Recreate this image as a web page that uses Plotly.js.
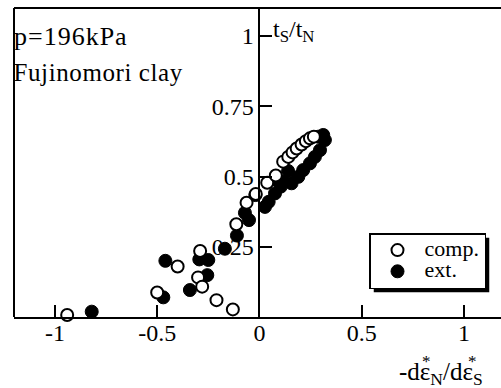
<!DOCTYPE html>
<html>
<head>
<meta charset="utf-8">
<script src="https://cdn.plot.ly/plotly-3.0.1.min.js"></script>
<style>
html,body{margin:0;padding:0;background:#fff;}
#chart{width:501px;height:388px;}
.legendtext{font-size:22px !important;}
.annotation[data-index="0"] .annotation-text{letter-spacing:1px;}
.annotation[data-index="1"] .annotation-text{letter-spacing:0.6px;}
</style>
</head>
<body>
<div id="chart"></div>
<script>
// Data
const compX = [-0.94, -0.50, -0.40, -0.29, -0.30, -0.28, -0.21, -0.13, -0.113, -0.063, -0.018, 0.038, 0.08, 0.116, 0.141, 0.162, 0.182, 0.206, 0.227, 0.247, 0.266];
const compY = [0.007, 0.087, 0.18, 0.235, 0.141, 0.108, 0.06, 0.027, 0.33, 0.407, 0.438, 0.478, 0.504, 0.553, 0.570, 0.586, 0.600, 0.614, 0.626, 0.636, 0.642];
const extX = [-0.82, -0.47, -0.46, -0.34, -0.294, -0.25, -0.255, -0.169, -0.11, -0.071, -0.051, -0.02, 0.027, 0.045, 0.076, 0.084, 0.104, 0.116, 0.14, 0.157, 0.19, 0.214, 0.247, 0.271, 0.296, 0.288, 0.312, 0.32];
const extY = [0.019, 0.07, 0.20, 0.096, 0.205, 0.203, 0.149, 0.243, 0.29, 0.371, 0.345, 0.434, 0.392, 0.41, 0.44, 0.488, 0.464, 0.481, 0.52, 0.476, 0.499, 0.523, 0.547, 0.570, 0.594, 0.642, 0.648, 0.630];
const xTickVals = [-1, -0.5, 0, 0.5, 1];
const xTickText = ['-1', '-0.5', '0', '0.5', '1'];
const yTickVals = [0.25, 0.5, 0.75, 1];
const yTickText = ['0.25', '0.5', '0.75', '1'];
const seriesNames = ['comp.', 'ext.'];

const serif = 'Liberation Serif';

const traces = [
  {
    x: extX, y: extY, type: 'scatter', mode: 'markers', name: seriesNames[1],
    legendrank: 2, cliponaxis: false,
    marker: {symbol: 'circle', size: 13, color: '#000', line: {color: '#000', width: 1}}
  },
  {
    x: compX, y: compY, type: 'scatter', mode: 'markers', name: seriesNames[0],
    legendrank: 1, cliponaxis: false,
    marker: {symbol: 'circle', size: 12, color: '#fff', line: {color: '#000', width: 2}}
  }
];

const P = (px) => (px - 14) / 487;
const Q = (py) => (317 - py) / 309;
const tf = (s) => ({family: serif, size: s, color: '#000'});

const layout = {
  width: 501, height: 388,
  margin: {l: 14, r: 0, t: 8, b: 71, pad: 0},
  paper_bgcolor: '#fff', plot_bgcolor: '#fff',
  font: tf(22),
  showlegend: true,
  legend: {
    x: P(369), y: Q(233), xanchor: 'left', yanchor: 'top',
    bgcolor: '#fff', bordercolor: '#000', borderwidth: 1.5,
    font: tf(14), tracegroupgap: 0, itemwidth: 44
  },
  xaxis: {
    range: [-1.2, 1.181], tickvals: xTickVals, ticktext: xTickText,
    ticks: 'inside', ticklen: 12, tickwidth: 2, tickcolor: '#000',
    showline: true, linewidth: 2, linecolor: '#000',
    showgrid: false, zeroline: false, ticklabelstandoff: -7,
    tickfont: tf(24)
  },
  yaxis: {
    range: [0, 1.1], tickvals: yTickVals, ticktext: yTickText,
    anchor: 'free', position: 1.2 / 2.381,
    ticks: 'inside', ticklen: 12, tickwidth: 2, tickcolor: '#000',
    showline: true, linewidth: 2, linecolor: '#000',
    showgrid: false, zeroline: false,
    tickfont: tf(24)
  },
  shapes: [
    {type: 'line', xref: 'paper', yref: 'paper', x0: 0, x1: 0, y0: 0, y1: 1, line: {color: '#000', width: 2}},
    {type: 'line', xref: 'paper', yref: 'paper', x0: 0, x1: 1, y0: 1, y1: 1, line: {color: '#000', width: 2}},
    {type: 'rect', xref: 'paper', yref: 'paper', layer: 'above',
     x0: P(373), x1: P(491), y0: Q(299), y1: Q(237), fillcolor: '#000', line: {width: 0}}
  ],
  annotations: [
    {text: 'p=196kPa', xref: 'paper', yref: 'paper', x: P(16), y: Q(36), xanchor: 'left', yanchor: 'middle', showarrow: false, font: tf(26)},
    {text: 'Fujinomori clay', xref: 'paper', yref: 'paper', x: P(16), y: Q(72), xanchor: 'left', yanchor: 'middle', showarrow: false, font: tf(25)},
    {text: 't<sub>S</sub>/t<sub>N</sub>', xref: 'paper', yref: 'paper', x: P(271), y: Q(31), xanchor: 'left', yanchor: 'middle', showarrow: false, font: tf(24)},
    {text: '-dε<sub>N</sub>/dε<sub>S</sub>', xref: 'paper', yref: 'paper', x: P(397), y: Q(373), xanchor: 'left', yanchor: 'middle', showarrow: false, font: tf(25)},
    {text: '*', xref: 'paper', yref: 'paper', x: P(426), y: Q(361), xanchor: 'center', yanchor: 'middle', showarrow: false, font: tf(17)},
    {text: '*', xref: 'paper', yref: 'paper', x: P(472), y: Q(361), xanchor: 'center', yanchor: 'middle', showarrow: false, font: tf(17)}
  ]
};

Plotly.newPlot('chart', traces, layout, {displayModeBar: false, staticPlot: true}).then(function (gd) {
  // place the legend's drop shadow from the legend box that Plotly actually drew
  const bg = gd.querySelector('.legend .bg');
  if (!bg) return;
  const r = bg.getBoundingClientRect();
  const c = gd.querySelector('.main-svg').getBoundingClientRect();
  const L = r.left - c.left, T = r.top - c.top;
  return Plotly.relayout(gd, {
    'shapes[2].x0': P(L + 4), 'shapes[2].x1': P(L + r.width + 4),
    'shapes[2].y0': Q(T + r.height + 4), 'shapes[2].y1': Q(T + 4)
  });
});
</script>
</body>
</html>
